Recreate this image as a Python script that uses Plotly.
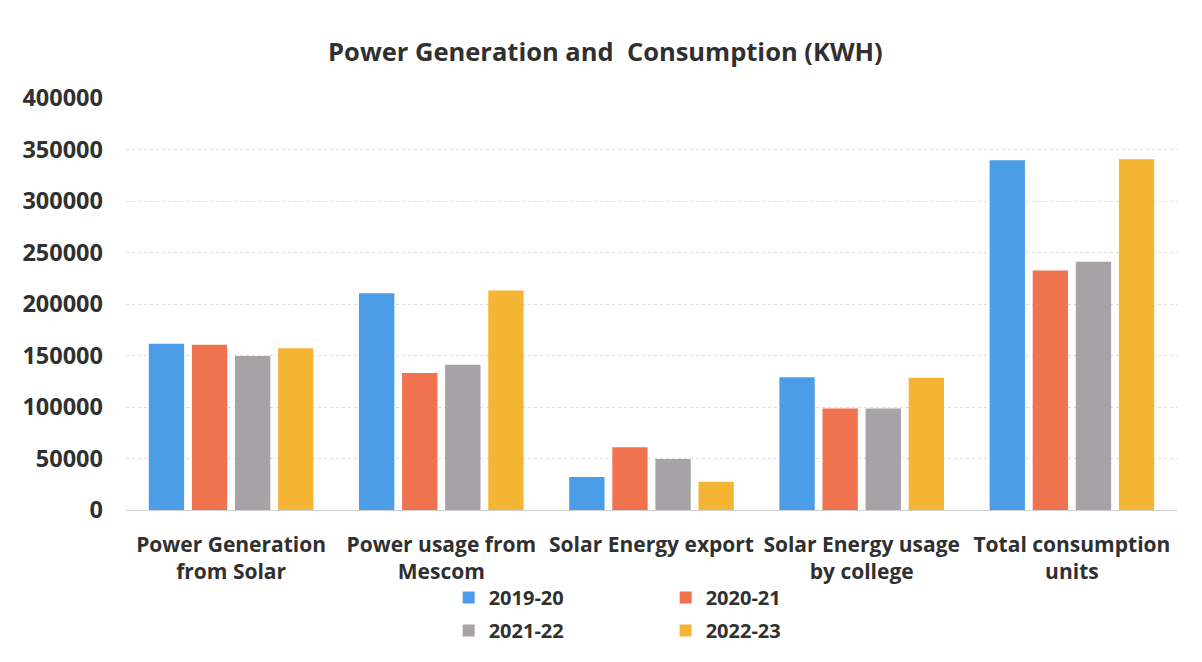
import plotly.graph_objects as go

categories = ["Power Generation<br>from Solar", "Power usage from<br>Mescom", "Solar Energy export",
              "Solar Energy usage<br>by college", "Total consumption<br>units"]
series_names = ["2019-20", "2020-21", "2021-22", "2022-23"]
v_2019_20 = [161500, 210500, 32000, 129000, 339500]
v_2020_21 = [160500, 133000, 61000, 98500, 232500]
v_2021_22 = [149500, 141000, 49500, 98500, 241000]
v_2022_23 = [157000, 213000, 27500, 128500, 340500]
values = [v_2019_20, v_2020_21, v_2021_22, v_2022_23]
colors = ["#4a9de6", "#f07350", "#a6a2a6", "#f4b534"]
legend_ids = ["legend", "legend", "legend2", "legend2"]
y_ticks = [0, 50000, 100000, 150000, 200000, 250000, 300000, 350000, 400000]

FONT = "Open Sans"
TXT = "#303030"

fig = go.Figure()
for name, vals, col, lg in zip(series_names, values, colors, legend_ids):
    fig.add_trace(go.Bar(x=categories, y=vals, name=name, legend=lg,
                         marker=dict(color=col, line=dict(width=0))))

leg_common = dict(orientation="h", xanchor="left", yanchor="top",
                  entrywidth=172, entrywidthmode="pixels", traceorder="normal",
                  font=dict(family=FONT, size=20, color=TXT, weight="bold"),
                  itemwidth=30, bgcolor="rgba(0,0,0,0)")

fig.update_layout(
    width=1202, height=662,
    paper_bgcolor="white", plot_bgcolor="white",
    margin=dict(l=118, r=33, t=90, b=160, autoexpand=False),
    barmode="group", bargap=0.18, bargroupgap=0.18,
    title=dict(text="<b>Power Generation and  Consumption (KWH)</b>", x=0.497, xanchor="center",
               y=0.934, yanchor="middle", font=dict(family=FONT, size=25.5, color=TXT)),
    font=dict(family=FONT, color=TXT),
    legend=dict(x=0.307, y=-0.165, **leg_common),
    legend2=dict(x=0.307, y=-0.245, **leg_common),
    showlegend=True,
)
fig.update_xaxes(showline=False, ticks="", tickfont=dict(family=FONT, size=21, color=TXT, weight="bold"),
                 ticklabelstandoff=20, automargin=False)
fig.update_yaxes(range=[0, 400000], tickvals=y_ticks, ticktext=[str(t) for t in y_ticks],
                 showgrid=True, gridcolor="#dcdcdc", griddash="dot", gridwidth=1,
                 zeroline=True, zerolinecolor="#cfcfcf", zerolinewidth=1, automargin=False,
                 tickfont=dict(family=FONT, size=23.5, color=TXT, weight="bold"), ticklabelstandoff=22)

fig.write_html("out.html")
